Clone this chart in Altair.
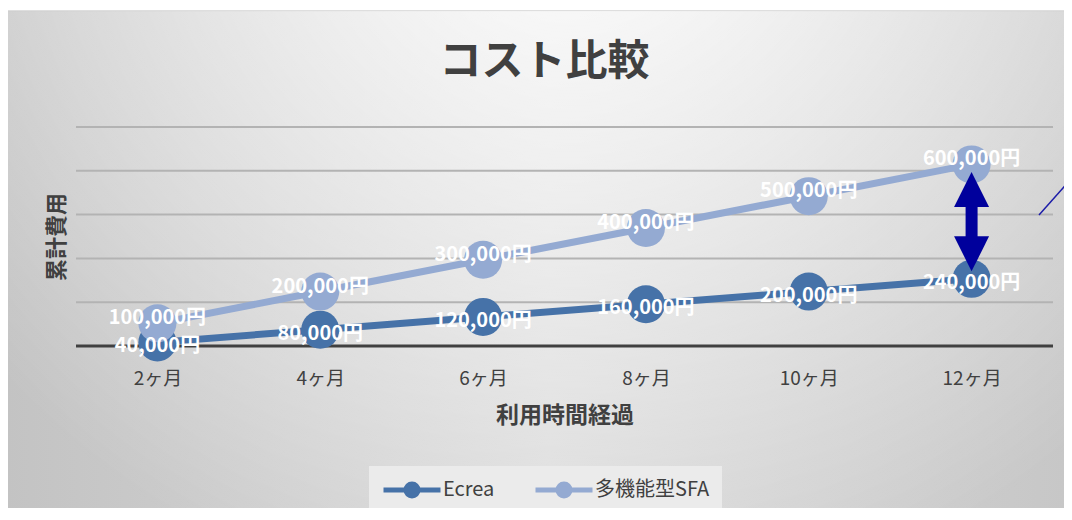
import altair as alt
import pandas as pd

months = ["2ヶ月", "4ヶ月", "6ヶ月", "8ヶ月", "10ヶ月", "12ヶ月"]
ecrea = [40000, 80000, 120000, 160000, 200000, 240000]
sfa = [100000, 200000, 300000, 400000, 500000, 600000]
series = ["Ecrea", "多機能型SFA"]
colors = ["#4672a8", "#94aad2"]

FONT = "Noto Sans CJK JP"
W, H = 977, 219
PAD = {"left": 68, "top": 119, "right": 11, "bottom": 162}

rows = []
for name, vals in zip(series, [ecrea, sfa]):
    for m, v in zip(months, vals):
        rows.append({"month": m, "series": name, "value": v, "label": f"{v:,}円"})
df = pd.DataFrame(rows)

y0, y1 = 28600, 717800
grid_vals = [y0 + i * (y1 - y0) / 5 for i in range(1, 6)]
grid_df = pd.DataFrame({"g": grid_vals})
base_df = pd.DataFrame({"g": [y0]})

x_axis = alt.Axis(
    title="利用時間経過", titleFont=FONT, titleFontSize=23, titleFontWeight="bold",
    titleColor="#404040", titlePadding=16,
    labelFont=FONT, labelFontSize=19, labelColor="#404040", labelAngle=0,
    labelPadding=23, ticks=False, tickSize=0,
    domain=False, grid=False, zindex=2,
)
y_axis = alt.Axis(
    labels=False, ticks=False, tickSize=0, domain=False, grid=False,
    title="累計費用", titleFont=FONT, titleFontSize=22, titleFontWeight="bold",
    titleColor="#404040", titlePadding=8, zindex=2,
)
y_scale = alt.Scale(domain=[y0, y1], nice=False, zero=False)
x_enc = alt.X("month:N", sort=months, scale=alt.Scale(type="point", padding=0.5), axis=x_axis)


def Y(field):
    return alt.Y(field, scale=y_scale, axis=y_axis)


legend_symbol = "M-1,0L5,0M1.37,0A0.63,0.63,0,1,0,2.63,0A0.63,0.63,0,1,0,1.37,0Z"
color_enc = alt.Color(
    "series:N",
    scale=alt.Scale(domain=series, range=colors),
    legend=alt.Legend(
        title=None, orient="none", legendX=293, legendY=339, direction="horizontal",
        fillColor="#ebebeb", padding=12, labelFont=FONT, labelFontSize=20,
        labelColor="#404040", symbolType=legend_symbol, symbolSize=361,
        symbolStrokeWidth=5, symbolOpacity=1, labelOffset=38, columnPadding=30,
    ),
)

one = alt.Data(values=[{"k": 1}])
bg_side = alt.Chart(one).mark_rect(
    color=alt.Gradient(
        gradient="linear", x1=0, x2=1, y1=0, y2=0,
        stops=[alt.GradientStop(color="#c3c3c3", offset=0),
               alt.GradientStop(color="#dadada", offset=0.5),
               alt.GradientStop(color="#c6c6c6", offset=1)],
    ),
    stroke="#bdbdbd", strokeWidth=1,
).encode(x=alt.value(-69), x2=alt.value(W + 40), y=alt.value(-116), y2=alt.value(H + 200))
bg_glow = alt.Chart(one).mark_rect(
    color=alt.Gradient(
        gradient="radial", x1=0.52, y1=0.1, r1=0, x2=0.52, y2=0.1, r2=0.72,
        stops=[alt.GradientStop(color="rgba(255,255,255,1)", offset=0),
               alt.GradientStop(color="rgba(255,255,255,0)", offset=1)],
    ),
).encode(x=alt.value(-69), x2=alt.value(W + 40), y=alt.value(-116), y2=alt.value(H + 200))

grid = alt.Chart(grid_df).mark_rule(color="#b3b3b3", strokeWidth=2).encode(y=Y("g:Q"))
baseline = alt.Chart(base_df).mark_rule(color="#404040", strokeWidth=3).encode(y=Y("g:Q"))

base = alt.Chart(df).encode(x=x_enc, y=Y("value:Q"))
lines = base.mark_line(strokeWidth=7).encode(color=color_enc)
points = base.mark_point(filled=True, size=1450, opacity=1).encode(color=color_enc)
label_style = dict(color="white", font=FONT, fontSize=20, fontWeight="bold")
labels_e = base.mark_text(dy=4, **label_style).encode(text="label:N").transform_filter(
    alt.datum.series == series[0])
labels_s = base.mark_text(dy=-5, **label_style).encode(text="label:N").transform_filter(
    alt.datum.series == series[1])

arrow_df = pd.DataFrame([{"month": months[-1], "top": sfa[-1], "bottom": ecrea[-1]}])
arrow_color = "#00009c"
abase = alt.Chart(arrow_df).encode(x=x_enc)
shaft = abase.mark_rule(color=arrow_color, strokeWidth=12, yOffset=30, y2Offset=-30).encode(
    y=Y("top:Q"), y2="bottom:Q")
head_up = abase.mark_point(shape="M0,-1L1,1L-1,1Z", filled=True, size=1225, opacity=1,
                           color=arrow_color, yOffset=25).encode(y=Y("top:Q"))
head_dn = abase.mark_point(shape="M0,1L1,-1L-1,-1Z", filled=True, size=1225, opacity=1,
                           color=arrow_color, yOffset=-25).encode(y=Y("bottom:Q"))

stray = alt.Chart(one).mark_rule(color="#1c1ca8", strokeWidth=1.5).encode(
    x=alt.value(963), y=alt.value(88), x2=alt.value(1010), y2=alt.value(35))

title = alt.Chart(one).mark_text(
    text="コスト比較", font=FONT, fontSize=42, fontWeight="bold", color="#404040",
    align="center", baseline="middle"
).encode(x=alt.value(W / 2 - 20), y=alt.value(-65))

chart = alt.layer(
    bg_side, bg_glow, grid, baseline, title, lines, points, shaft, head_up, head_dn,
    labels_e, labels_s, stray
).properties(
    width=W, height=H, autosize=alt.AutoSizeParams(type="none"), padding=PAD,
    background="white",
).configure_view(stroke=None)

chart.save("out.html", embed_options={"renderer": "svg", "actions": False})
